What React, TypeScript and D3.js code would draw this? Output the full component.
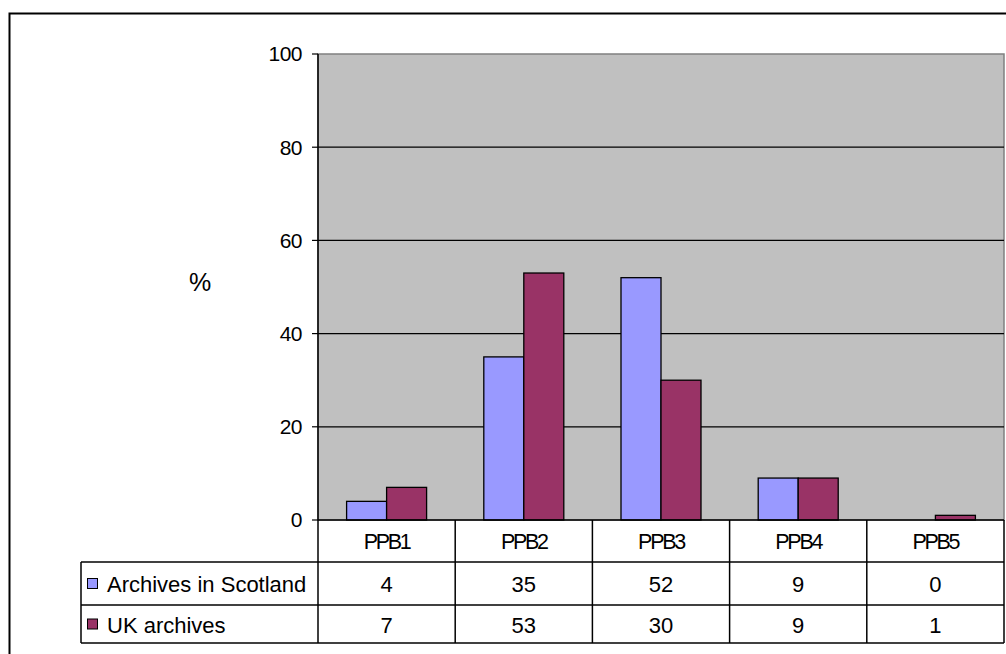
import React from "react";
import * as d3 from "d3";

const categories = ["PPB1", "PPB2", "PPB3", "PPB4", "PPB5"];
const seriesNames = ["Archives in Scotland", "UK archives"];
const scotland = [4, 35, 52, 9, 0];
const uk = [7, 53, 30, 9, 1];
const yTicks = [0, 20, 40, 60, 80, 100];
const colors = ["#9999ff", "#993366"];

export default function App() {
  const W = 1006, H = 654;
  const left = 318, right = 1004, top = 54, bottom = 520;
  const x = d3.scaleBand().domain(categories).range([left, right]);
  const y = d3.scaleLinear().domain([0, 100]).range([bottom, top]);
  const barW = 40;
  const series = [scotland, uk];
  const font = "'Liberation Sans', Arial, sans-serif";
  const tableLeft = 81;
  const rowYs = [520, 562, 605, 643];

  return (
    <svg width={W} height={H} style={{ position: "absolute", left: 0, top: 0, background: "#fff" }} fontFamily={font}>
      <rect x={9.5} y={13.5} width={1010} height={660} fill="#fff" stroke="#000" strokeWidth={2} />
      <rect x={left} y={top} width={right - left} height={bottom - top} fill="#c0c0c0" stroke="#808080" strokeWidth={1.5} />
      {yTicks.filter(t => t > 0 && t < 100).map(t => (
        <line key={t} x1={left} x2={right} y1={y(t)} y2={y(t)} stroke="#000" strokeWidth={1.2} />
      ))}
      {series.map((vals, si) =>
        categories.map((c, ci) => {
          const cx = (x(c) as number) + x.bandwidth() / 2;
          const bx = cx - barW + si * barW;
          const v = vals[ci];
          if (v <= 0) return null;
          return (
            <rect key={si + "-" + ci} x={bx} y={y(v)} width={barW} height={y(0) - y(v)}
              fill={colors[si]} stroke="#000" strokeWidth={1.3} />
          );
        })
      )}
      <line x1={left} x2={left} y1={top} y2={bottom} stroke="#000" strokeWidth={1.5} />
      {yTicks.map(t => (
        <g key={t}>
          <line x1={left - 6} x2={left} y1={y(t)} y2={y(t)} stroke="#000" strokeWidth={1.2} />
          <text x={302} y={y(t)} dy="0.35em" textAnchor="end" fontSize={21} letterSpacing={-0.5}>{t}</text>
        </g>
      ))}
      <text x={200} y={282} dy="0.35em" textAnchor="middle" fontSize={25}>%</text>
      {/* data table */}
      <line x1={left} x2={right} y1={rowYs[0]} y2={rowYs[0]} stroke="#000" strokeWidth={1.5} />
      {rowYs.slice(1).map((ry, i) => (
        <line key={i} x1={tableLeft} x2={right} y1={ry} y2={ry} stroke="#000" strokeWidth={1.5} />
      ))}
      <line x1={tableLeft} x2={tableLeft} y1={rowYs[1]} y2={rowYs[3]} stroke="#000" strokeWidth={1.5} />
      {categories.map(c => (
        <line key={c} x1={x(c) as number} x2={x(c) as number} y1={rowYs[0]} y2={rowYs[3]} stroke="#000" strokeWidth={1.5} />
      ))}
      <line x1={right} x2={right} y1={rowYs[0]} y2={rowYs[3]} stroke="#000" strokeWidth={1.5} />
      {categories.map(c => (
        <text key={c} x={(x(c) as number) + x.bandwidth() / 2} y={(rowYs[0] + rowYs[1]) / 2 + 7.5} textAnchor="middle" fontSize={21.5} letterSpacing={-2.3}>{c}</text>
      ))}
      {series.map((vals, si) => {
        const cy = (rowYs[si + 1] + rowYs[si + 2]) / 2;
        return (
          <g key={si}>
            <rect x={87.5} y={cy - 5} width={10} height={10} fill={colors[si]} stroke="#000" strokeWidth={1} />
            <text x={107} y={cy + 8.5} fontSize={22}>{seriesNames[si]}</text>
            {categories.map((c, ci) => (
              <text key={c} x={(x(c) as number) + x.bandwidth() / 2} y={cy + 8.5} textAnchor="middle" fontSize={22}>{vals[ci]}</text>
            ))}
          </g>
        );
      })}
    </svg>
  );
}
